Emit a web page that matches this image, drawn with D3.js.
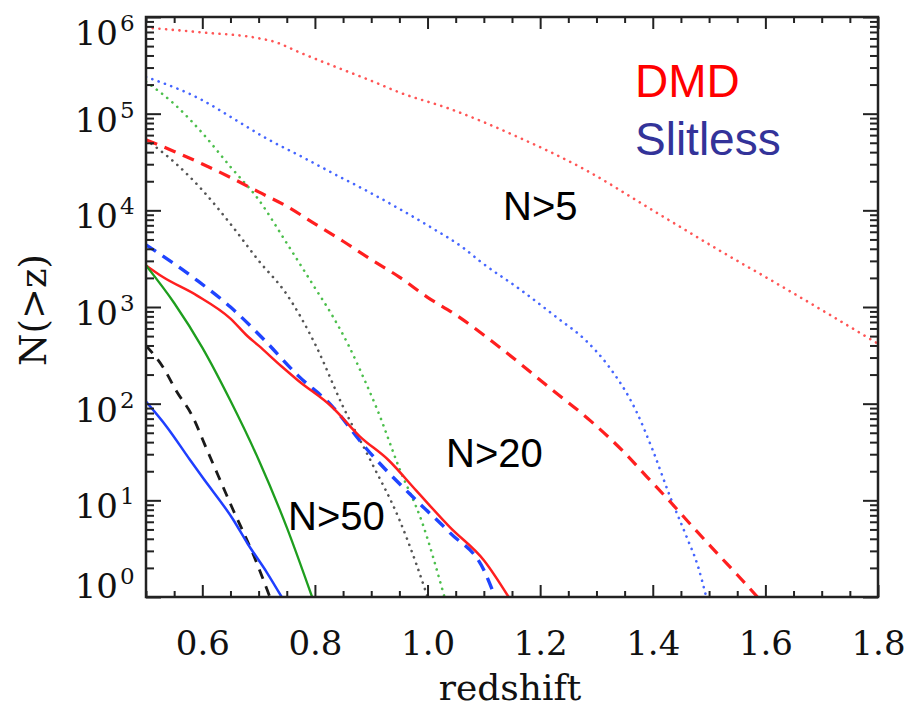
<!DOCTYPE html>
<html><head><meta charset="utf-8">
<script src="https://cdn.jsdelivr.net/npm/d3@7"></script>
<style>body{margin:0;background:#fff}svg{display:block}</style>
</head><body>
<svg id="c" width="907" height="708"></svg>
<script>
// ---- data (redshift z, cumulative counts N(>z)) ----
const dmdN5_z   = [0.5,0.6,0.7,0.73,0.77,0.83,0.9,0.95,1.04,1.16,1.28,1.4,1.52,1.63,1.72,1.8];
const dmdN5_n   = [776000,692000,603000,550000,437000,316000,219000,166000,112000,57500,26300,10000,3800,1620,794,417];
const slitN5_z  = [0.5,0.6,0.655,0.715,0.775,0.833,0.893,0.952,1.01,1.064,1.094,1.165,1.23,1.28,1.32,1.37,1.4,1.43,1.46,1.48,1.495];
const slitN5_n  = [240000,138000,89100,55000,36300,24000,15800,10200,6460,4070,2950,1510,776,457,251,85,33,11.2,4.2,2.1,1];
const grnN5_z   = [0.5,0.55,0.6,0.65,0.7,0.75,0.8,0.83,0.86,0.89,0.91,0.95,0.99,1.03];
const grnN5_n   = [214000,126000,63100,28200,12900,4570,1580,832,398,166,89,21.4,6.0,1];
const blkN5_z   = [0.5,0.55,0.6,0.65,0.7,0.75,0.8,0.85,0.9,0.95,0.98,1.0];
const blkN5_n   = [53700,31600,16200,7240,3020,1350,417,93,25,6.3,2.2,1];
const dmdN20_z  = [0.5,0.55,0.6,0.65,0.7,0.75,0.8,0.85,0.9,0.95,1.0,1.05,1.12,1.22,1.29,1.35,1.39,1.43,1.47,1.515,1.55,1.586];
const dmdN20_n  = [53700,40700,30200,21900,15500,11000,7240,4790,3090,2040,1260,832,417,141,66,31,17.4,9.8,5.4,2.8,1.7,1];
const slitN20_z = [0.5,0.59,0.65,0.71,0.77,0.83,0.89,0.98,1.04,1.1,1.12];
const slitN20_n = [4400,1900,1000,457,195,95,35,10,4.6,1.9,1];
const blkN20_z  = [0.5,0.53,0.555,0.58,0.61,0.655,0.69,0.72];
const blkN20_n  = [398,240,132,79,31.6,7.9,2.8,1];
const dmdN50_z  = [0.5,0.53,0.59,0.65,0.68,0.7,0.74,0.77,0.83,0.88,0.93,0.98,1.04,1.1,1.144];
const dmdN50_n  = [2690,2040,1320,759,501,398,245,174,93,45.7,26.3,12.6,5.25,2.4,1];
const grnN50_z  = [0.5,0.55,0.6,0.65,0.7,0.75,0.795];
const grnN50_n  = [2690,1100,380,107,26.3,5.25,1];
const slitN50_z = [0.5,0.537,0.578,0.6,0.655,0.68,0.715,0.741];
const slitN50_n = [105,57.5,26.3,17.4,6.3,3.6,1.78,1];

const xMajor = [0.6,0.8,1.0,1.2,1.4,1.6,1.8];
const xMajorLabels = ["0.6","0.8","1.0","1.2","1.4","1.6","1.8"];
const yExponents = [0,1,2,3,4,5,6];

// ---- series styling table ----
const series = [
  {z:dmdN5_z,  n:dmdN5_n,  color:"#ff5555", dash:"0.1,6.6", w:2.6, cap:"round"},
  {z:slitN5_z, n:slitN5_n, color:"#4565ff", dash:"0.1,6.6", w:2.6, cap:"round"},
  {z:grnN5_z,  n:grnN5_n,  color:"#4cbf4c", dash:"0.1,6.6", w:2.6, cap:"round"},
  {z:blkN5_z,  n:blkN5_n,  color:"#555555", dash:"0.1,6.6", w:2.6, cap:"round"},
  {z:dmdN20_z, n:dmdN20_n, color:"#ff1f1f", dash:"12,8", w:3.2, cap:"butt"},
  {z:slitN20_z,n:slitN20_n,color:"#1f44ff", dash:"12,8", w:3.4, cap:"butt"},
  {z:blkN20_z, n:blkN20_n, color:"#1a1a1a", dash:"10,8", w:2.8, cap:"butt"},
  {z:dmdN50_z, n:dmdN50_n, color:"#ff1f1f", dash:null, w:2.5, cap:"butt"},
  {z:grnN50_z, n:grnN50_n, color:"#1e9e1e", dash:null, w:2.3, cap:"butt"},
  {z:slitN50_z,n:slitN50_n,color:"#1f3fff", dash:null, w:2.5, cap:"butt"}
];

const svg = d3.select("#c");
const L=146, R=878, T=17, B=597;
const x = d3.scaleLinear().domain([0.5,1.8]).range([L,R]);
const y = d3.scaleLog().domain([1,1e6]).range([B,T]);

const plot = svg.append("g");
svg.append("clipPath").attr("id","clp").append("rect")
  .attr("x",L).attr("y",T-2).attr("width",R-L).attr("height",B-T+2);

const line = d3.line().x(d=>x(d[0])).y(d=>y(d[1])).curve(d3.curveMonotoneX);
series.forEach(s=>{
  const pts = s.z.map((z,i)=>[z,s.n[i]]);
  plot.append("path").datum(pts)
    .attr("d",line)
    .attr("fill","none")
    .attr("stroke",s.color)
    .attr("stroke-width",s.w)
    .attr("stroke-linecap",s.cap)
    .attr("stroke-linejoin","round")
    .attr("stroke-dasharray",s.dash)
    .attr("clip-path","url(#clp)");
});

// ---- axes (inward ticks, all four sides) ----
const xMinor = d3.range(0,27).map(i=>+(0.5+i*0.05).toFixed(2)).filter(v=>!xMajor.some(m=>Math.abs(m-v)<1e-6));
const yMinor = [];
for(let e=0;e<6;e++) for(let k=2;k<=9;k++) yMinor.push(k*Math.pow(10,e));
const yMajor = yExponents.map(e=>Math.pow(10,e));

function styleAxis(g){
  g.select(".domain").remove();
  g.selectAll(".tick line").attr("stroke","#222").attr("stroke-width",2);
}
const fontTick = "'DejaVu Serif', serif";

svg.append("g").attr("transform",`translate(0,${B})`)
  .call(d3.axisBottom(x).tickValues(xMinor).tickSize(-6).tickFormat("")).call(styleAxis);
svg.append("g").attr("transform",`translate(0,${B})`)
  .call(d3.axisBottom(x).tickValues(xMajor).tickSize(-12).tickPadding(34)
        .tickFormat((d,i)=>xMajorLabels[i])).call(styleAxis)
  .selectAll("text").attr("font-family",fontTick).attr("font-size",34).attr("fill","#111");
svg.append("g").attr("transform",`translate(0,${T})`)
  .call(d3.axisTop(x).tickValues(xMinor).tickSize(-6).tickFormat("")).call(styleAxis);
svg.append("g").attr("transform",`translate(0,${T})`)
  .call(d3.axisTop(x).tickValues(xMajor).tickSize(-12).tickFormat("")).call(styleAxis);

svg.append("g").attr("transform",`translate(${L},0)`)
  .call(d3.axisLeft(y).tickValues(yMinor).tickSize(-8).tickFormat("")).call(styleAxis);
svg.append("g").attr("transform",`translate(${L},0)`)
  .call(d3.axisLeft(y).tickValues(yMajor).tickSize(-15).tickFormat("")).call(styleAxis);
svg.append("g").attr("transform",`translate(${R},0)`)
  .call(d3.axisRight(y).tickValues(yMinor).tickSize(-8).tickFormat("")).call(styleAxis);
svg.append("g").attr("transform",`translate(${R},0)`)
  .call(d3.axisRight(y).tickValues(yMajor).tickSize(-15).tickFormat("")).call(styleAxis);

// y tick labels 10^k
const yl = svg.append("g").attr("font-family",fontTick).attr("fill","#111");
yExponents.forEach(e=>{
  const py = y(Math.pow(10,e));
  const base = Math.min(Math.max(py+18, T+28), B+1);
  yl.append("text").attr("x",118).attr("y",base).attr("text-anchor","end")
    .attr("font-size",34).text("10");
  yl.append("text").attr("x",120).attr("y",base-14).attr("text-anchor","start")
    .attr("font-size",23).text(String(e));
});

// frame
svg.append("rect").attr("x",L).attr("y",T).attr("width",R-L).attr("height",B-T)
  .attr("fill","none").attr("stroke","#222").attr("stroke-width",2.5);

// axis titles
svg.append("text").attr("x",(L+R)/2-2).attr("y",700).attr("text-anchor","middle")
  .attr("font-family",fontTick).attr("font-size",36).attr("fill","#111").text("redshift");
svg.append("text").attr("transform","translate(46,310) rotate(-90)").attr("text-anchor","middle")
  .attr("font-family",fontTick).attr("font-size",37).attr("fill","#111").text("N(>z)");

// annotations
const sans = "'Liberation Sans', Arial, sans-serif";
svg.append("text").attr("x",635).attr("y",97).attr("font-family",sans).attr("font-size",46)
  .attr("fill","#ff0000").text("DMD");
svg.append("text").attr("x",635).attr("y",155).attr("font-family",sans).attr("font-size",46)
  .attr("fill","#333399").text("Slitless");
svg.append("text").attr("x",503).attr("y",220).attr("font-family",sans).attr("font-size",40)
  .attr("fill","#000").text("N>5");
svg.append("text").attr("x",446).attr("y",467).attr("font-family",sans).attr("font-size",40)
  .attr("fill","#000").text("N>20");
svg.append("text").attr("x",288).attr("y",530).attr("font-family",sans).attr("font-size",40)
  .attr("fill","#000").text("N>50");
</script>
</body></html>
